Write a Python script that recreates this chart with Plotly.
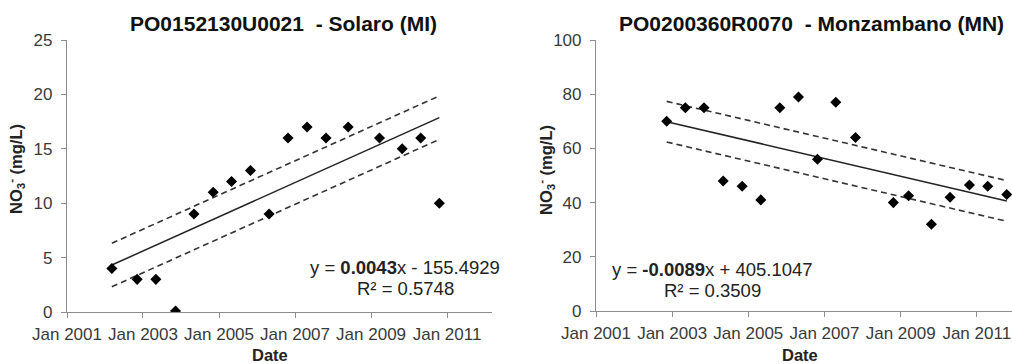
import numpy as np
import pandas as pd
import plotly.graph_objects as go

# ---------------- data ----------------
solaro_dates = ["2002-03-08", "2002-11-06", "2003-05-05", "2003-11-10", "2004-05-05",
                "2004-11-06", "2005-05-01", "2005-10-30", "2006-04-27", "2006-10-26",
                "2007-04-27", "2007-10-26", "2008-05-26", "2009-03-23", "2009-10-27",
                "2010-04-23", "2010-10-19"]
solaro_no3 = [4, 3, 3, 0.1, 9, 11, 12, 13, 9, 16, 17, 16, 17, 16, 15, 16, 10]

monz_dates = ["2002-11-10", "2003-05-08", "2003-11-03", "2004-05-05", "2004-11-03",
              "2005-05-01", "2005-10-30", "2006-04-27", "2006-10-26", "2007-04-20",
              "2007-10-26", "2008-10-23", "2009-03-18", "2009-10-23", "2010-04-20",
              "2010-10-23", "2011-04-16", "2011-10-16"]
monz_no3 = [70, 75, 75, 48, 46, 41, 75, 79, 56, 77, 64, 40, 42.5, 32, 42, 46.5, 46, 43]

# half-width of the dashed band around each trend line (mg/L)
solaro_band = 2.0
monz_band = 7.5

titles = ["PO0152130U0021&nbsp; - Solaro (MI)", "PO0200360R0070&nbsp; - Monzambano (MN)"]
equations = [("y = <b>0.0043</b>x - 155.4929", "R² = 0.5748"),
             ("y = <b>-0.0089</b>x + 405.1047", "R² = 0.3509")]

W, H = 1012, 364
FONT = "Liberation Sans, Arial, sans-serif"


def px(x):
    return x / W


def py(y):
    return 1 - y / H


def trend(dates, vals):
    t = pd.to_datetime(pd.Series(dates))
    days = (t - pd.Timestamp("1899-12-30")).dt.days.to_numpy(dtype=float)
    slope, icpt = np.polyfit(days, np.asarray(vals, dtype=float), 1)
    xe = [t.iloc[0], t.iloc[-1]]
    ye = slope * days[[0, -1]] + icpt
    return xe, ye


fig = go.Figure()

for i, (d, v, band) in enumerate([(solaro_dates, solaro_no3, solaro_band),
                                   (monz_dates, monz_no3, monz_band)]):
    xa = "x" if i == 0 else "x2"
    ya = "y" if i == 0 else "y2"
    xe, ye = trend(d, v)
    for off in (band, -band):
        fig.add_trace(go.Scatter(x=xe, y=ye + off, mode="lines", xaxis=xa, yaxis=ya,
                                 line=dict(color="#333333", width=1.6, dash="6px,4px"),
                                 hoverinfo="skip"))
    fig.add_trace(go.Scatter(x=xe, y=ye, mode="lines", xaxis=xa, yaxis=ya,
                             line=dict(color="#222222", width=1.5), hoverinfo="skip"))
    fig.add_trace(go.Scatter(x=d, y=v, mode="markers", xaxis=xa, yaxis=ya,
                             marker=dict(symbol="diamond", size=8.5, color="#000000")))

axis_common = dict(showline=True, linecolor="#8c8c8c", linewidth=1.2, ticks="outside",
                   ticklen=5, tickcolor="#8c8c8c", showgrid=False, zeroline=False,
                   tickfont=dict(family=FONT, size=17, color="#3a3a3a"), automargin=False)

xaxis_common = dict(type="date", tickformat="%b %Y", dtick="M24", tick0="2001-01-01",
                    ticklabelstandoff=1, **axis_common)
yaxis_common = dict(ticklabelstandoff=5, **axis_common)

fig.update_layout(
    width=W, height=H,
    margin=dict(l=0, r=0, t=0, b=0),
    paper_bgcolor="white", plot_bgcolor="white",
    showlegend=False,
    font=dict(family=FONT),
    xaxis=dict(domain=[px(67), px(492)], range=["2001-01-01", "2012-03-08"],
               anchor="y", **xaxis_common),
    yaxis=dict(domain=[py(312), py(40)], range=[0, 25], dtick=5, anchor="x",
               **yaxis_common),
    xaxis2=dict(domain=[px(596), 1.0], range=["2001-01-01", "2011-12-05"],
                anchor="y2", **xaxis_common),
    yaxis2=dict(domain=[py(311), py(40)], range=[0, 100], dtick=20, anchor="x2",
                **yaxis_common),
)

ann = []
# titles
for x, t in zip([283, 811.5], titles):
    ann.append(dict(text=f"<b>{t}</b>", x=px(x), y=py(23), xref="paper", yref="paper",
                    xanchor="center", yanchor="middle", showarrow=False,
                    font=dict(family=FONT, size=21, color="#111111")))
# x-axis titles
for x in [270, 799.5]:
    ann.append(dict(text="<b>Date</b>", x=px(x), y=py(355), xref="paper", yref="paper",
                    xanchor="center", yanchor="middle", showarrow=False,
                    font=dict(family=FONT, size=16.5, color="#222222")))
# y-axis titles
for x, y in [(16, 169), (546, 170)]:
    ann.append(dict(text="<b>NO<sub>3</sub><sup>-</sup> (mg/L)</b>", x=px(x), y=py(y),
                    xref="paper", yref="paper", xanchor="center", yanchor="middle",
                    textangle=-90, showarrow=False,
                    font=dict(family=FONT, size=16.5, color="#222222")))
# regression equations
for (x, y1, y2), (l1, l2) in zip([(405, 267, 288), (712, 269, 290)], equations):
    ann.append(dict(text=l1, x=px(x), y=py(y1), xref="paper", yref="paper",
                    xanchor="center", yanchor="middle", showarrow=False,
                    font=dict(family=FONT, size=18.5, color="#222222")))
    ann.append(dict(text=l2, x=px(x), y=py(y2), xref="paper", yref="paper",
                    xanchor="center", yanchor="middle", showarrow=False,
                    font=dict(family=FONT, size=18.5, color="#222222")))

fig.update_layout(annotations=ann)

fig.write_html("out.html")
